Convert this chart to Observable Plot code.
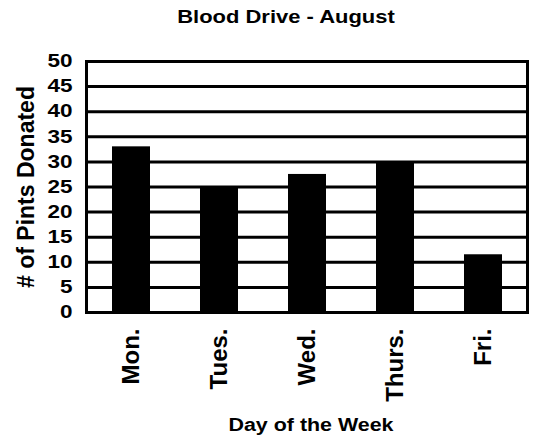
<!DOCTYPE html>
<html><head><meta charset="utf-8">
<script src="https://cdn.jsdelivr.net/npm/d3@7"></script>
<script src="https://cdn.jsdelivr.net/npm/@observablehq/plot@0.6"></script>
<style>
body{margin:0;background:#fff;font-family:"Liberation Sans",Arial,sans-serif;}
#title{position:relative;height:40px;width:534px;}
#title span{position:absolute;left:286px;top:8px;font-size:18px;line-height:18px;font-weight:bold;white-space:nowrap;transform:translateX(-50%) scaleX(1.22);color:#000;}
</style></head><body>
<div id="title"><span>Blood Drive - August</span></div>
<div id="chart"></div>
<script>
const days = ["Mon.", "Tues.", "Wed.", "Thurs.", "Fri."];
const pints = [33, 25, 27.5, 30, 11.5];
const yTicks = [0, 5, 10, 15, 20, 25, 30, 35, 40, 45, 50];
const data = days.map((d, i) => ({day: d, pints: pints[i]}));

const plot = Plot.plot({
  width: 534, height: 406,
  marginTop: 21, marginBottom: 134, marginLeft: 86, marginRight: 7,
  style: {fontFamily: '"Liberation Sans", Arial, sans-serif', fontWeight: "bold", color: "black", background: "white"},
  x: {domain: days, paddingInner: 0.57, paddingOuter: 0.285, label: null},
  y: {domain: [0, 50], ticks: yTicks, label: null},
  marks: [
    Plot.gridY(yTicks, {stroke: "black", strokeOpacity: 1, strokeWidth: 3}),
    Plot.barY(data, {x: "day", y: "pints", fill: "black"}),
    Plot.frame({stroke: "black", strokeWidth: 3}),
    Plot.axisY(yTicks, {tickSize: 0, tickPadding: 14, fontSize: 18, label: null}),
    Plot.axisX({tickSize: 0, tickPadding: 16, tickRotate: -90, fontSize: 24, label: null}),
    Plot.text(["# of Pints Donated"], {text: d => d, frameAnchor: "left", textAnchor: "middle", rotate: -90, dx: -60, fontSize: 23, fontWeight: "bold"}),
    Plot.text(["Day of the Week"], {text: d => d, frameAnchor: "bottom", dy: 118, dx: 4, fontSize: 18, fontWeight: "bold"})
  ]
});
document.getElementById("chart").appendChild(plot);

function stretch(sel, k) {
  sel.each(function () {
    const w = this.getComputedTextLength();
    this.setAttribute("textLength", w * k);
    this.setAttribute("lengthAdjust", "spacingAndGlyphs");
  });
}
const svg = d3.select(plot);
stretch(svg.selectAll('g[aria-label="y-axis tick label"] text'), 1.25);
stretch(svg.selectAll("text").filter(function () { return this.textContent === "Day of the Week"; }), 1.19);
</script>
</body></html>
